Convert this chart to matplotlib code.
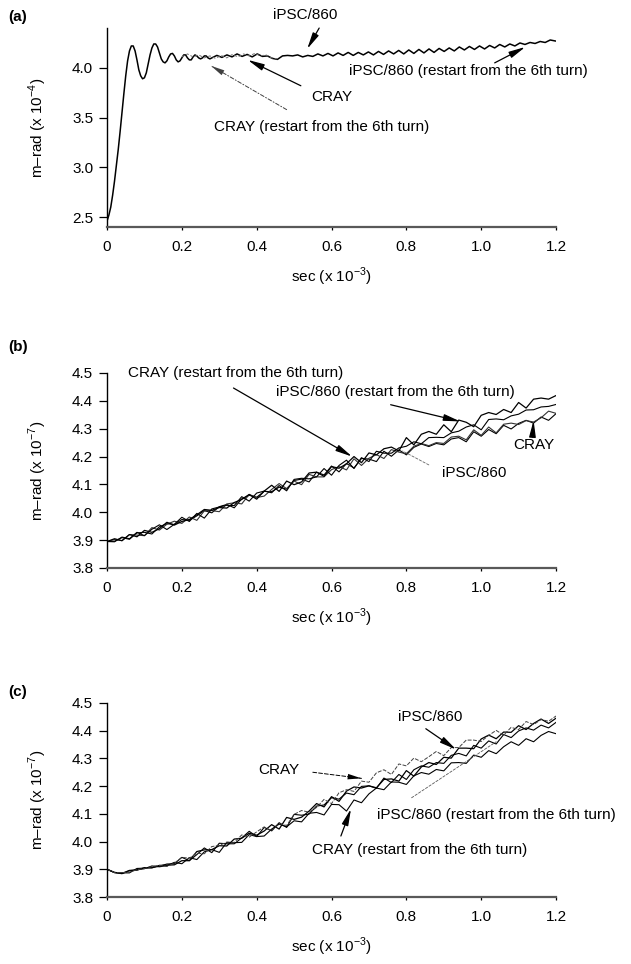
import matplotlib
matplotlib.use("Agg")
import matplotlib.pyplot as plt
import numpy as np

plt.rcParams['font.family'] = ['Liberation Sans', 'DejaVu Sans']
plt.rcParams['font.size'] = 11
plt.rcParams['mathtext.fontset'] = 'custom'
plt.rcParams['mathtext.rm'] = 'Liberation Sans'

# ---------------- panel (a): m-rad (x 10^-4) ----------------
a_x_start = [0.0, 0.005, 0.01, 0.015, 0.02, 0.025, 0.03, 0.035, 0.04, 0.045,
             0.05, 0.055, 0.06, 0.065, 0.07, 0.075, 0.08, 0.085, 0.09, 0.095,
             0.10, 0.105, 0.11, 0.115, 0.12, 0.125, 0.13, 0.135, 0.14, 0.145,
             0.15, 0.155, 0.16, 0.165, 0.17, 0.175, 0.18, 0.185, 0.19, 0.195,
             0.20, 0.205, 0.21, 0.215, 0.22, 0.225, 0.23, 0.235, 0.24, 0.245,
             0.25, 0.255, 0.26, 0.265, 0.27, 0.275]
a_y_start = [2.46, 2.52, 2.60, 2.72, 2.86, 3.02, 3.18, 3.36, 3.55, 3.74,
             3.92, 4.07, 4.17, 4.22, 4.22, 4.17, 4.08, 3.98, 3.92, 3.89,
             3.90, 3.95, 4.04, 4.13, 4.20, 4.24, 4.24, 4.21, 4.15, 4.09,
             4.06, 4.05, 4.07, 4.11, 4.14, 4.145, 4.12, 4.08, 4.06, 4.07,
             4.10, 4.13, 4.13, 4.10, 4.08, 4.08, 4.11, 4.13, 4.12, 4.10,
             4.09, 4.10, 4.12, 4.12, 4.10, 4.09]
a_x_tail = list(np.round(0.28 + 0.0135 * np.arange(69), 4))
a_y_tail = [4.100, 4.125, 4.105, 4.130, 4.110, 4.140, 4.115, 4.135, 4.110, 4.140,
            4.115, 4.120, 4.095, 4.085, 4.120, 4.125, 4.120, 4.130, 4.110, 4.125,
            4.115, 4.140, 4.120, 4.145, 4.120, 4.150, 4.125, 4.155, 4.125, 4.155,
            4.130, 4.160, 4.130, 4.165, 4.135, 4.170, 4.140, 4.175, 4.140, 4.180,
            4.145, 4.185, 4.150, 4.190, 4.155, 4.195, 4.165, 4.200, 4.170, 4.210,
            4.180, 4.215, 4.185, 4.220, 4.190, 4.225, 4.200, 4.235, 4.210, 4.240,
            4.220, 4.250, 4.235, 4.255, 4.245, 4.265, 4.255, 4.280, 4.270]
a_ipsc_x = a_x_start + a_x_tail
a_ipsc_y = a_y_start + a_y_tail

# CRAY run, visible apart from iPSC only between the 6th turn and ~0.46
a_cray_x = [0.20, 0.215, 0.23, 0.245, 0.26, 0.275, 0.29, 0.305, 0.32, 0.335,
            0.35, 0.365, 0.38, 0.395, 0.41, 0.425, 0.44, 0.455]
a_cray_y = [4.11, 4.14, 4.11, 4.13, 4.10, 4.12, 4.095, 4.125, 4.10, 4.135,
            4.11, 4.14, 4.12, 4.145, 4.12, 4.13, 4.10, 4.09]

# ---------------- panels (b), (c): m-rad (x 10^-7) ----------------
bc_x = list(np.round(np.arange(61) * 0.02, 2))

b_ipsc_restart = [3.895, 3.905, 3.898, 3.920, 3.912, 3.935, 3.928, 3.941, 3.964, 3.954,
                  3.967, 3.974, 3.991, 4.010, 4.007, 4.017, 4.015, 4.035, 4.046, 4.064,
                  4.047, 4.076, 4.097, 4.075, 4.112, 4.099, 4.109, 4.141, 4.144, 4.129,
                  4.164, 4.158, 4.174, 4.200, 4.178, 4.213, 4.206, 4.228, 4.234, 4.220,
                  4.268, 4.242, 4.280, 4.290, 4.280, 4.314, 4.289, 4.331, 4.323, 4.307,
                  4.348, 4.358, 4.351, 4.369, 4.358, 4.394, 4.374, 4.406, 4.410, 4.406,
                  4.419]
b_cray_restart = [3.895, 3.894, 3.911, 3.905, 3.928, 3.916, 3.939, 3.955, 3.938, 3.957,
                  3.982, 3.967, 3.996, 3.979, 4.012, 4.019, 4.025, 4.024, 4.056, 4.040,
                  4.069, 4.076, 4.070, 4.096, 4.077, 4.118, 4.122, 4.120, 4.127, 4.157,
                  4.133, 4.168, 4.187, 4.157, 4.196, 4.182, 4.219, 4.212, 4.212, 4.231,
                  4.237, 4.253, 4.246, 4.268, 4.269, 4.268, 4.285, 4.291, 4.306, 4.314,
                  4.296, 4.333, 4.335, 4.332, 4.346, 4.352, 4.367, 4.368, 4.378, 4.380,
                  4.387]
b_ipsc = [3.895, 3.902, 3.898, 3.920, 3.918, 3.916, 3.945, 3.936, 3.957, 3.968,
          3.960, 3.983, 3.971, 4.005, 4.006, 4.002, 4.030, 4.034, 4.030, 4.064,
          4.053, 4.058, 4.082, 4.103, 4.085, 4.112, 4.099, 4.136, 4.127, 4.127,
          4.153, 4.164, 4.152, 4.192, 4.168, 4.194, 4.207, 4.193, 4.225, 4.216,
          4.210, 4.237, 4.247, 4.239, 4.250, 4.247, 4.270, 4.273, 4.260, 4.296,
          4.276, 4.306, 4.285, 4.316, 4.320, 4.315, 4.329, 4.324, 4.339, 4.363,
          4.355]
b_cray = [3.895, 3.896, 3.909, 3.903, 3.926, 3.928, 3.922, 3.948, 3.959, 3.956,
          3.974, 3.971, 3.987, 4.006, 3.998, 4.020, 4.028, 4.016, 4.048, 4.061,
          4.054, 4.075, 4.074, 4.090, 4.083, 4.114, 4.119, 4.109, 4.144, 4.134,
          4.166, 4.145, 4.175, 4.159, 4.193, 4.191, 4.182, 4.219, 4.201, 4.224,
          4.206, 4.233, 4.245, 4.236, 4.247, 4.242, 4.263, 4.268, 4.253, 4.289,
          4.273, 4.297, 4.282, 4.312, 4.299, 4.319, 4.330, 4.320, 4.342, 4.330,
          4.354]

c_cray = [3.900, 3.888, 3.888, 3.890, 3.898, 3.903, 3.910, 3.914, 3.910, 3.922,
          3.943, 3.940, 3.958, 3.956, 3.982, 3.986, 3.998, 3.997, 4.024, 4.016,
          4.035, 4.053, 4.038, 4.065, 4.058, 4.098, 4.112, 4.106, 4.123, 4.152,
          4.137, 4.176, 4.187, 4.181, 4.218, 4.214, 4.248, 4.259, 4.242, 4.280,
          4.273, 4.301, 4.288, 4.306, 4.325, 4.310, 4.339, 4.339, 4.366, 4.366,
          4.361, 4.383, 4.401, 4.384, 4.412, 4.404, 4.433, 4.422, 4.440, 4.434,
          4.453]
c_ipsc = [3.900, 3.889, 3.885, 3.896, 3.897, 3.906, 3.905, 3.914, 3.915, 3.916,
          3.931, 3.931, 3.964, 3.970, 3.971, 3.985, 3.984, 4.009, 4.012, 4.030,
          4.023, 4.038, 4.061, 4.045, 4.087, 4.080, 4.088, 4.110, 4.137, 4.125,
          4.162, 4.145, 4.182, 4.197, 4.193, 4.201, 4.194, 4.224, 4.226, 4.218,
          4.256, 4.236, 4.269, 4.285, 4.278, 4.304, 4.301, 4.337, 4.337, 4.335,
          4.370, 4.384, 4.371, 4.395, 4.394, 4.418, 4.404, 4.426, 4.442, 4.426,
          4.445]
c_ipsc_restart = [3.900, 3.888, 3.887, 3.887, 3.903, 3.904, 3.906, 3.911, 3.919, 3.920,
                  3.943, 3.931, 3.953, 3.977, 3.960, 3.994, 3.992, 3.992, 4.013, 4.037,
                  4.018, 4.051, 4.039, 4.068, 4.051, 4.098, 4.095, 4.099, 4.128, 4.132,
                  4.158, 4.153, 4.175, 4.169, 4.199, 4.201, 4.192, 4.229, 4.213, 4.242,
                  4.224, 4.259, 4.273, 4.268, 4.285, 4.282, 4.311, 4.318, 4.309, 4.347,
                  4.337, 4.363, 4.352, 4.386, 4.375, 4.399, 4.410, 4.402, 4.420, 4.410,
                  4.430]
c_cray_restart = [3.900, 3.888, 3.884, 3.895, 3.898, 3.902, 3.912, 3.909, 3.913, 3.925,
                  3.920, 3.942, 3.935, 3.963, 3.971, 3.961, 3.997, 3.996, 3.997, 4.025,
                  4.018, 4.020, 4.045, 4.063, 4.053, 4.075, 4.071, 4.102, 4.105, 4.096,
                  4.134, 4.133, 4.110, 4.150, 4.140, 4.172, 4.193, 4.187, 4.215, 4.214,
                  4.206, 4.237, 4.249, 4.243, 4.260, 4.255, 4.284, 4.285, 4.282, 4.312,
                  4.304, 4.328, 4.317, 4.342, 4.360, 4.347, 4.371, 4.360, 4.383, 4.397,
                  4.389]

x_ticks = [0, 0.2, 0.4, 0.6, 0.8, 1.0, 1.2]
x_ticklabels = ['0', '0.2', '0.4', '0.6', '0.8', '1.0', '1.2']
a_yticks = [2.5, 3.0, 3.5, 4.0]
bc_yticks = [3.8, 3.9, 4.0, 4.1, 4.2, 4.3, 4.4, 4.5]


def style_axes(ax, ylim, yticks, ylabel):
    ax.set_xlim(0, 1.2)
    ax.set_ylim(*ylim)
    ax.set_xticks(x_ticks)
    ax.set_xticklabels(x_ticklabels)
    ax.set_yticks(yticks)
    ax.set_yticklabels(['%.1f' % v for v in yticks])
    for s in ['top', 'right']:
        ax.spines[s].set_visible(False)
    ax.spines['left'].set_linewidth(1.0)
    ax.spines['bottom'].set_linewidth(1.6)
    ax.spines['bottom'].set_color('0.35')
    ax.tick_params(axis='y', direction='out', length=6, width=0.9, pad=4, labelsize=11)
    ax.tick_params(axis='x', direction='out', length=2.5, width=0.9, pad=7, labelsize=11)
    ax.set_xlabel(r'sec (x 10$^{-3}$)', fontsize=11, labelpad=8)
    ax.set_ylabel(ylabel, fontsize=11)
    ax.yaxis.set_label_coords(-0.13, 0.5)


def arrow(ax, text_xy, tail, head, ls='-', lw=0.9, color='black', text=None, ha='center'):
    if text is not None:
        ax.text(text_xy[0], text_xy[1], text, ha=ha, va='center', fontsize=11,
                clip_on=False)
    if ls == '-':
        ax.annotate('', xy=head, xytext=tail, annotation_clip=False,
                    arrowprops=dict(arrowstyle='-|>,head_length=0.9,head_width=0.18',
                                    color=color, lw=lw, shrinkA=0, shrinkB=0))
    else:
        ax.annotate('', xy=head, xytext=tail, annotation_clip=False,
                    arrowprops=dict(arrowstyle='-', color=color, lw=lw, ls=ls,
                                    shrinkA=0, shrinkB=0))
        mid = (tail[0] + 0.8 * (head[0] - tail[0]), tail[1] + 0.8 * (head[1] - tail[1]))
        ax.annotate('', xy=head, xytext=mid, annotation_clip=False,
                    arrowprops=dict(arrowstyle='-|>,head_length=0.9,head_width=0.18',
                                    color=color, lw=0.01, shrinkA=0, shrinkB=0))


fig = plt.figure(figsize=(6.31, 9.64), dpi=100)
ax_a = fig.add_axes([0.1696, 0.7645, 0.7116, 0.2064])
ax_b = fig.add_axes([0.1696, 0.4108, 0.7116, 0.2023])
ax_c = fig.add_axes([0.1696, 0.0695, 0.7116, 0.2013])

# (a)
ax_a.plot(a_ipsc_x, a_ipsc_y, color='black', lw=1.1)
ax_a.plot(a_cray_x, a_cray_y, color='0.45', lw=0.7, ls=(0, (3, 2)))
style_axes(ax_a, (2.4, 4.4), a_yticks, r'm–rad (x 10$^{-4}$)')
arrow(ax_a, (0.53, 4.53), (0.567, 4.40), (0.535, 4.19), text='iPSC/860')
arrow(ax_a, (0.965, 3.97), (1.036, 4.05), (1.118, 4.21),
      text='iPSC/860 (restart from the 6th turn)')
arrow(ax_a, (0.60, 3.71), (0.518, 3.82), (0.376, 4.08), text='CRAY')
arrow(ax_a, (0.573, 3.41), (0.48, 3.58), (0.278, 4.02), ls=(0, (4, 2, 1, 2)), lw=0.7,
      color='0.25', text='CRAY (restart from the 6th turn)')

# (b)
ax_b.plot(bc_x, b_cray, color='black', lw=0.8)
ax_b.plot(bc_x, b_ipsc, color='0.2', lw=0.8)
ax_b.plot(bc_x, b_cray_restart, color='black', lw=0.8)
ax_b.plot(bc_x, b_ipsc_restart, color='black', lw=0.9)
style_axes(ax_b, (3.8, 4.5), bc_yticks, r'm–rad (x 10$^{-7}$)')
ax_b.text(0.055, 4.50, 'CRAY (restart from the 6th turn)', ha='left', va='center',
          fontsize=11, clip_on=False)
arrow(ax_b, None, (0.338, 4.446), (0.655, 4.20))
arrow(ax_b, (0.77, 4.43), (0.758, 4.386), (0.944, 4.326),
      text='iPSC/860 (restart from the 6th turn)')
arrow(ax_b, (1.14, 4.24), (1.137, 4.27), (1.14, 4.33), text='CRAY')
ax_b.text(0.98, 4.14, 'iPSC/860', ha='center', va='center', fontsize=11)
ax_b.annotate('', xy=(0.79, 4.22), xytext=(0.86, 4.17),
              arrowprops=dict(arrowstyle='-', color='0.4', lw=0.6, ls=(0, (3, 2)),
                              shrinkA=0, shrinkB=0))

# (c)
ax_c.plot(bc_x, c_ipsc, color='black', lw=0.9)
ax_c.plot(bc_x, c_ipsc_restart, color='black', lw=0.8)
ax_c.plot(bc_x, c_cray_restart, color='black', lw=0.8)
ax_c.plot(bc_x, c_cray, color='0.25', lw=0.7, ls=(0, (4, 1.5)))
style_axes(ax_c, (3.8, 4.5), bc_yticks, r'm–rad (x 10$^{-7}$)')
arrow(ax_c, (0.863, 4.448), (0.852, 4.407), (0.933, 4.332), text='iPSC/860')
arrow(ax_c, (0.458, 4.257), (0.55, 4.25), (0.68, 4.228), ls=(0, (4, 2)), lw=0.7,
      text='CRAY')
ax_c.text(1.04, 4.095, 'iPSC/860 (restart from the 6th turn)', ha='center', va='center',
          fontsize=11, clip_on=False)
ax_c.annotate('', xy=(1.04, 4.36), xytext=(0.814, 4.158),
              arrowprops=dict(arrowstyle='-', color='0.35', lw=0.6, ls=(0, (3, 2)),
                              shrinkA=0, shrinkB=0))
arrow(ax_c, (0.836, 3.97), (0.625, 4.02), (0.652, 4.118),
      text='CRAY (restart from the 6th turn)')

for lab, y in [('(a)', 0.982), ('(b)', 0.640), ('(c)', 0.282)]:
    fig.text(0.013, y, lab, fontsize=11, fontweight='bold', ha='left', va='center')

fig.savefig('out.png', dpi=100)
